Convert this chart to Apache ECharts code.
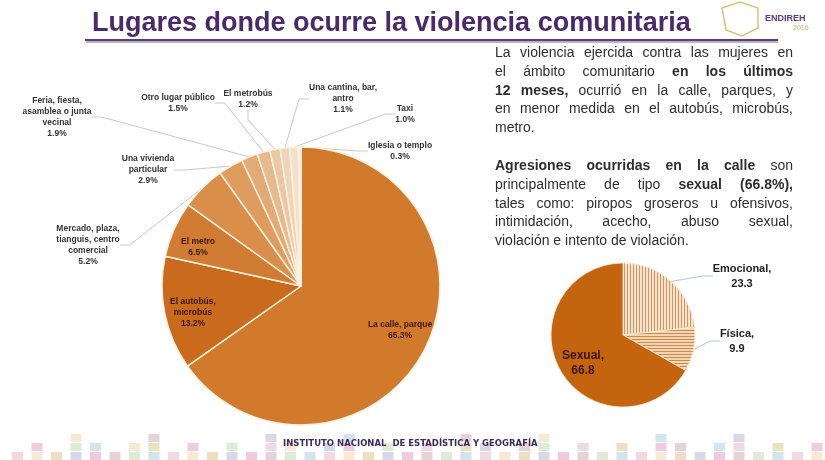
<!DOCTYPE html>
<html>
<head>
<meta charset="utf-8">
<script src="https://cdn.jsdelivr.net/npm/echarts@6/dist/echarts.min.js"></script>
<style>
  html, body { margin: 0; padding: 0; background: #fff; }
  #chart { width: 825px; height: 460px; }
  .texto {
    position: absolute; left: 495px; width: 298px;
    font-family: Arial, "Liberation Sans", sans-serif;
    font-size: 14px; line-height: 18.8px; color: #2e2e2e;
  }
  .texto div { text-align: justify; text-align-last: justify; white-space: nowrap; }
  .texto div.ult { text-align-last: left; }
</style>
</head>
<body>
<div id="chart"></div>
<div class="texto" style="top: 43px">
  <div>La violencia ejercida contra las mujeres en</div>
  <div>el ámbito comunitario <b>en los últimos</b></div>
  <div><b>12 meses,</b> ocurrió en la calle, parques, y</div>
  <div>en menor medida en el autobús, microbús,</div>
  <div class="ult">metro.</div>
</div>
<div class="texto" style="top: 156px">
  <div><b>Agresiones ocurridas en la calle</b> son</div>
  <div>principalmente de tipo <b>sexual (66.8%),</b></div>
  <div>tales como: piropos groseros u ofensivos,</div>
  <div>intimidación, acecho, abuso sexual,</div>
  <div class="ult">violación e intento de violación.</div>
</div>
<script>
  // datos: lugares donde ocurre la violencia comunitaria (%)
  const lugares = ['La calle, parque', 'El autobús,\nmicrobús', 'El metro',
    'Mercado, plaza,\ntianguis, centro\ncomercial', 'Una vivienda\nparticular',
    'Feria, fiesta,\nasamblea o junta\nvecinal', 'Otro lugar público', 'El metrobús',
    'Una cantina, bar,\nantro', 'Taxi', 'Iglesia o templo'];
  const porcentajes = [65.3, 13.2, 6.5, 5.2, 2.9, 1.9, 1.5, 1.2, 1.1, 1.0, 0.3];

  // tipo de agresión en la calle
  const tipos = ['Emocional,', 'Física,', 'Sexual,'];
  const valoresTipo = [23.3, 9.9, 66.8];

  const coloresLugar = ['#D27A2C', '#C96A1C', '#D07D33', '#D98E4A', '#DE9C5F', '#E2AA76',
    '#E7B98C', '#ECC7A3', '#F0D4B8', '#F4E0CC', '#F9EDE0'];
  const dentro = [true, true, true, false, false, false, false, false, false, false, false];

  // posición de las etiquetas (px)
  const posEtiqueta = [[400, 330], [193, 313], [198, 247], [88, 245], [148, 170], [57, 117],
    [178, 103], [248, 99], [343, 99], [405, 114], [400, 151]];
  const posEtiquetaTipo = [[742, 276], [737, 341], [583, 363]];

  const fuente = 'Arial, "Liberation Sans", sans-serif';

  let datosLugar = lugares.map((n, i) => ({
    name: n,
    value: porcentajes[i],
    itemStyle: {color: coloresLugar[i]},
    label: dentro[i] ? {position: 'inside', color: '#3a1800'} : {},
    labelLine: {show: !dentro[i]}
  }));

  let datosTipo = [
    {
      name: tipos[0], value: valoresTipo[0],
      itemStyle: {
        color: '#F3E1C9',
        decal: {symbol: 'rect', symbolSize: 1, color: '#C99A66', dashArrayX: [1, 2], dashArrayY: [1, 0]}
      }
    },
    {
      name: tipos[1], value: valoresTipo[1],
      itemStyle: {
        color: '#F1D5B4',
        decal: {symbol: 'rect', symbolSize: 1, color: '#D08A48', dashArrayX: [1, 0], dashArrayY: [1, 2]}
      }
    },
    {
      name: tipos[2], value: valoresTipo[2],
      itemStyle: {color: '#C4640F'},
      label: {position: 'inside', color: '#3a1400', fontSize: 12}
    }
  ];

  // franja decorativa inferior
  const coloresPie = ['#E9C8DA', '#C9C6DE', '#CFE3C8', '#F3DFC0', '#E7B7CF', '#BFD9E6', '#E2D3A8', '#D9C0C8'];
  let franja = [];
  for (let i = 0; i < 42; i++) {
    let h = [1, 2, 1, 3, 2, 1, 2, 3, 1, 2][i % 10];
    for (let k = 0; k < h; k++) {
      franja.push({
        type: 'rect',
        shape: {x: 12 + i * 19.5, y: 452 - k * 9, width: 11, height: 8},
        style: {fill: coloresPie[(i * 3 + k) % coloresPie.length], opacity: 0.7},
        silent: true, z: 0
      });
    }
  }

  let chart = echarts.init(document.getElementById('chart'));
  chart.setOption({
    backgroundColor: '#fff',
    animation: false,
    title: {
      text: 'Lugares donde ocurre la violencia comunitaria',
      left: 87, top: 5,
      textStyle: {fontSize: 27, fontWeight: 'bold', color: '#4B2A6B', fontFamily: fuente}
    },
    graphic: franja.concat([
      {
        type: 'line', shape: {x1: 86, y1: 42, x2: 778, y2: 42},
        style: {stroke: '#B8B4BC', lineWidth: 2}, z: 1
      },
      {
        type: 'line', shape: {x1: 85, y1: 40, x2: 778, y2: 40},
        style: {stroke: '#5E3A7E', lineWidth: 2}, z: 2
      },
      {
        type: 'polygon', shape: {points: [[722, 8], [740, 2], [758, 8], [758, 28], [742, 36], [726, 30]]},
        style: {fill: 'none', stroke: '#D9C27A', lineWidth: 1.5}, z: 2
      },
      {
        type: 'text', left: 765, top: 14,
        style: {text: 'ENDIREH', fill: '#5E3A7E', fontSize: 9, fontWeight: 'bold', fontFamily: fuente}
      },
      {
        type: 'text', left: 793, top: 25,
        style: {text: '2016', fill: '#CDB36A', fontSize: 7, fontFamily: fuente}
      },
      {
        type: 'text', left: 283, top: 439,
        style: {
          text: 'INSTITUTO NACIONAL  DE ESTADÍSTICA Y GEOGRAFÍA', fill: '#3E2A5E',
          fontSize: 8.5, fontWeight: 'bold', fontFamily: '"DejaVu Sans", sans-serif'
        },
        z: 5
      }
    ]),
    series: [
      {
        name: 'Lugares',
        type: 'pie',
        center: [301, 286],
        radius: 139,
        startAngle: 90,
        clockwise: true,
        avoidLabelOverlap: false,
        data: datosLugar,
        itemStyle: {borderColor: '#FDF1E2', borderWidth: 1.5},
        label: {
          show: true,
          formatter: p => p.name + '\n' + p.value.toFixed(1) + '%',
          fontSize: 8.5,
          fontWeight: 'bold',
          lineHeight: 11,
          color: '#333',
          fontFamily: fuente,
          align: 'center'
        },
        labelLine: {show: true, length: 10, length2: 10, lineStyle: {color: '#C9C9C9', width: 1}},
        labelLayout: params => {
          let pos = posEtiqueta[params.dataIndex];
          return {x: pos[0], y: pos[1], align: 'center', verticalAlign: 'middle'};
        },
        emphasis: {disabled: true},
        z: 3
      },
      {
        name: 'Tipo de agresión',
        type: 'pie',
        center: [623, 335],
        radius: 72,
        startAngle: 90,
        clockwise: true,
        avoidLabelOverlap: false,
        data: datosTipo,
        itemStyle: {borderColor: '#FBEBD8', borderWidth: 0.8},
        label: {
          show: true,
          formatter: p => p.name + '\n' + p.value.toFixed(1),
          fontSize: 11,
          fontWeight: 'bold',
          lineHeight: 15,
          color: '#222',
          fontFamily: fuente,
          align: 'center'
        },
        labelLine: {show: true, length: 10, length2: 10, lineStyle: {color: '#B9C3CC', width: 1}},
        labelLayout: params => {
          let pos = posEtiquetaTipo[params.dataIndex];
          return {x: pos[0], y: pos[1], align: 'center', verticalAlign: 'middle'};
        },
        emphasis: {disabled: true},
        z: 3
      }
    ]
  });
</script>
</body>
</html>
